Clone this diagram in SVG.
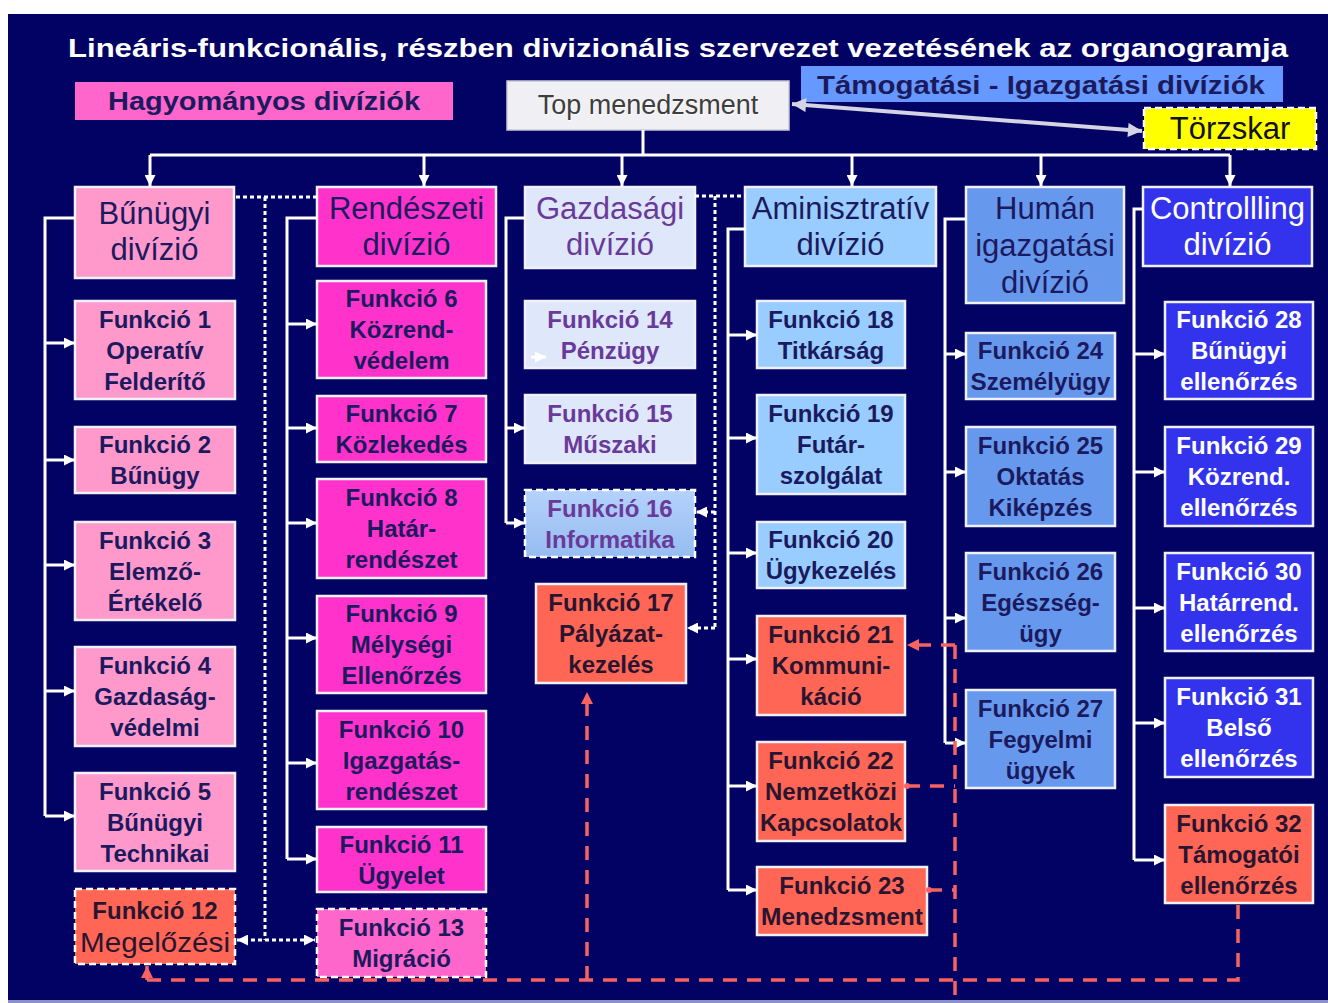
<svg xmlns="http://www.w3.org/2000/svg" width="1328" height="1003" viewBox="0 0 1328 1003">
<defs>
<style>
text{font-family:"Liberation Sans",Arial,sans-serif;text-anchor:middle}
.box{stroke:#f0f0f8;stroke-width:2.5}
.dash{stroke:#ffffff;stroke-width:2.5;stroke-dasharray:7 4}
.div{font-size:31px;fill:#1c1a5e}
.fn{font-size:24px;font-weight:bold;fill:#1c1a5e}
.pur{fill:#6a3a9a}
.wht{fill:#ffffff}
.drk{fill:#2a1530}
.wl{stroke:#ffffff;stroke-width:3;fill:none}
.wd{stroke:#ffffff;stroke-width:3;fill:none;stroke-dasharray:4 3}
.rd{stroke:#f86262;stroke-width:3.5;fill:none;stroke-dasharray:14 10}
.pink{fill:#ff99cc}
.mag{fill:#ff33cc}
.red{fill:#ff6655}
.gaz{fill:#dfe8fb}
.adm{fill:#99ccff}
.hum{fill:#6699ee}
.ctl{fill:#3333ee}
</style>
<marker id="wa" viewBox="0 0 10 10" refX="10" refY="5" markerWidth="12" markerHeight="11" markerUnits="userSpaceOnUse" orient="auto-start-reverse"><path d="M0,0 L10,5 L0,10 z" fill="#ffffff"/></marker>
<marker id="ra" viewBox="0 0 10 10" refX="10" refY="5" markerWidth="13" markerHeight="12" markerUnits="userSpaceOnUse" orient="auto"><path d="M0,0 L10,5 L0,10 z" fill="#f86262"/></marker>
<marker id="ga" viewBox="0 0 10 10" refX="10" refY="5" markerWidth="16" markerHeight="14" markerUnits="userSpaceOnUse" orient="auto-start-reverse"><path d="M0,0 L10,5 L0,10 z" fill="#d4d4e4"/></marker>
<linearGradient id="g16" x1="0" y1="0" x2="0" y2="1"><stop offset="0" stop-color="#b4d2fc"/><stop offset="1" stop-color="#96bcf0"/></linearGradient>
</defs>
<rect x="8" y="14" width="1320" height="986" fill="#020264"/>
<rect x="8" y="1000" width="1320" height="3" fill="#8c90c4"/>

<text x="678" y="57" font-family="DejaVu Sans,sans-serif" font-weight="bold" font-size="26" fill="#ffffff" textLength="1220" lengthAdjust="spacingAndGlyphs">Lineáris-funkcionális,  részben divizionális  szervezet vezetésének az organogramja</text>

<g id="legend-hagyomanyos"><rect x="75" y="82" width="378" height="38" fill="#ff66cc"/><text x="264" y="110" font-size="26" font-weight="bold" fill="#1c1a5e" textLength="312" lengthAdjust="spacingAndGlyphs">Hagyományos divíziók</text></g>
<g id="legend-tamogatasi"><rect x="801" y="66" width="482" height="36" fill="#6699ff"/><text x="1041" y="94" font-size="26" font-weight="bold" fill="#1c1a5e" textLength="448" lengthAdjust="spacingAndGlyphs">Támogatási - Igazgatási divíziók</text></g>
<g id="top"><rect x="507" y="81" width="282" height="49" fill="#f0f0f4" stroke="#c8c8d8" stroke-width="1.5"/><text x="649" y="115" font-size="27" fill="#fff" opacity="0.8">Top menedzsment</text><text x="648" y="114" font-size="27" fill="#3e3e3e">Top menedzsment</text></g>
<g id="torzskar"><rect x="1144" y="108" width="172" height="41" fill="#ffff00" class="dash"/><text x="1230" y="139" font-size="31" fill="#111111">Törzskar</text></g>

<g id="div-bunugyi"><rect x="75" y="187" width="159" height="91" class="box pink"/><text x="154.5" y="224" class="div">Bűnügyi</text><text x="154.5" y="260" class="div">divízió</text></g>
<g id="div-rendeszeti"><rect x="317" y="187" width="179" height="79" class="box mag"/><text x="406.5" y="219" class="div">Rendészeti</text><text x="406.5" y="255" class="div">divízió</text></g>
<g id="div-gazdasagi"><rect x="525" y="187" width="170" height="81" class="box gaz"/><text x="610" y="219" class="div pur">Gazdasági</text><text x="610" y="255" class="div pur">divízió</text></g>
<g id="div-admin"><rect x="745" y="187" width="191" height="79" class="box adm"/><text x="840.5" y="219" class="div">Aminisztratív</text><text x="840.5" y="255" class="div">divízió</text></g>
<g id="div-human"><rect x="966" y="187" width="158" height="116" class="box hum"/><text x="1045" y="219" class="div">Humán</text><text x="1045" y="256" class="div">igazgatási</text><text x="1045" y="293" class="div">divízió</text></g>
<g id="div-controlling"><rect x="1143" y="187" width="169" height="79" class="box ctl"/><text x="1227.5" y="219" class="div wht">Controllling</text><text x="1227.5" y="255" class="div wht">divízió</text></g>

<g id="f1"><rect x="75" y="301" width="160" height="98" class="box pink"/><text x="155" y="327.5" class="fn">Funkció 1</text><text x="155" y="358.5" class="fn">Operatív</text><text x="155" y="389.5" class="fn">Felderítő</text></g>
<g id="f2"><rect x="75" y="427" width="160" height="66" class="box pink"/><text x="155" y="453" class="fn">Funkció 2</text><text x="155" y="484" class="fn">Bűnügy</text></g>
<g id="f3"><rect x="75" y="522" width="160" height="98" class="box pink"/><text x="155" y="548.5" class="fn">Funkció 3</text><text x="155" y="579.5" class="fn">Elemző-</text><text x="155" y="610.5" class="fn">Értékelő</text></g>
<g id="f4"><rect x="75" y="647" width="160" height="99" class="box pink"/><text x="155" y="674" class="fn">Funkció 4</text><text x="155" y="705" class="fn">Gazdaság-</text><text x="155" y="736" class="fn">védelmi</text></g>
<g id="f5"><rect x="75" y="773" width="160" height="98" class="box pink"/><text x="155" y="799.5" class="fn">Funkció 5</text><text x="155" y="830.5" class="fn">Bűnügyi</text><text x="155" y="861.5" class="fn">Technikai</text></g>
<g id="f12"><rect x="75" y="889" width="160" height="75" class="red dash"/><text x="155" y="919" class="fn drk">Funkció 12</text><text x="155" y="952" font-size="28" class="drk" textLength="150" lengthAdjust="spacingAndGlyphs">Megelőzési</text></g>

<g id="f6"><rect x="317" y="281" width="169" height="97" class="box mag"/><text x="401.5" y="307" class="fn">Funkció 6</text><text x="401.5" y="338" class="fn">Közrend-</text><text x="401.5" y="369" class="fn">védelem</text></g>
<g id="f7"><rect x="317" y="396" width="169" height="66" class="box mag"/><text x="401.5" y="422" class="fn">Funkció 7</text><text x="401.5" y="453" class="fn">Közlekedés</text></g>
<g id="f8"><rect x="317" y="479" width="169" height="99" class="box mag"/><text x="401.5" y="506" class="fn">Funkció 8</text><text x="401.5" y="537" class="fn">Határ-</text><text x="401.5" y="568" class="fn">rendészet</text></g>
<g id="f9"><rect x="317" y="596" width="169" height="97" class="box mag"/><text x="401.5" y="622" class="fn">Funkció 9</text><text x="401.5" y="653" class="fn">Mélységi</text><text x="401.5" y="684" class="fn">Ellenőrzés</text></g>
<g id="f10"><rect x="317" y="711" width="169" height="98" class="box mag"/><text x="401.5" y="737.5" class="fn">Funkció 10</text><text x="401.5" y="768.5" class="fn">Igazgatás-</text><text x="401.5" y="799.5" class="fn">rendészet</text></g>
<g id="f11"><rect x="317" y="827" width="169" height="65" class="box mag"/><text x="401.5" y="852.5" class="fn">Funkció 11</text><text x="401.5" y="883.5" class="fn">Ügyelet</text></g>
<g id="f13"><rect x="317" y="909" width="169" height="68" fill="#ff66cc" class="dash"/><text x="401.5" y="936" class="fn">Funkció 13</text><text x="401.5" y="967" class="fn">Migráció</text></g>

<g id="f14"><rect x="525" y="301" width="170" height="67" class="box gaz"/><text x="610" y="327.5" class="fn pur">Funkció 14</text><text x="610" y="358.5" class="fn pur">Pénzügy</text></g>
<g id="f15"><rect x="525" y="395" width="170" height="68" class="box gaz"/><text x="610" y="422" class="fn pur">Funkció 15</text><text x="610" y="453" class="fn pur">Műszaki</text></g>
<g id="f16"><rect x="525" y="490" width="170" height="67" fill="url(#g16)" class="dash"/><text x="610" y="516.5" class="fn pur">Funkció 16</text><text x="610" y="547.5" class="fn pur">Informatika</text></g>
<g id="f17"><rect x="536" y="584" width="150" height="99" class="box red"/><text x="611" y="611" class="fn drk">Funkció 17</text><text x="611" y="642" class="fn drk">Pályázat-</text><text x="611" y="673" class="fn drk">kezelés</text></g>

<g id="f18"><rect x="757" y="301" width="148" height="67" class="box adm"/><text x="831" y="327.5" class="fn">Funkció 18</text><text x="831" y="358.5" class="fn">Titkárság</text></g>
<g id="f19"><rect x="757" y="395" width="148" height="99" class="box adm"/><text x="831" y="422" class="fn">Funkció 19</text><text x="831" y="453" class="fn">Futár-</text><text x="831" y="484" class="fn">szolgálat</text></g>
<g id="f20"><rect x="757" y="522" width="148" height="66" class="box adm"/><text x="831" y="548" class="fn">Funkció 20</text><text x="831" y="579" class="fn">Ügykezelés</text></g>
<g id="f21"><rect x="757" y="616" width="148" height="99" class="box red"/><text x="831" y="643" class="fn drk">Funkció 21</text><text x="831" y="674" class="fn drk">Kommuni-</text><text x="831" y="705" class="fn drk">káció</text></g>
<g id="f22"><rect x="757" y="742" width="148" height="99" class="box red"/><text x="831" y="769" class="fn drk">Funkció 22</text><text x="831" y="800" class="fn drk">Nemzetközi</text><text x="831" y="831" class="fn drk" textLength="142" lengthAdjust="spacingAndGlyphs">Kapcsolatok</text></g>
<g id="f23"><rect x="757" y="867" width="170" height="68" class="box red"/><text x="842" y="894" class="fn drk">Funkció 23</text><text x="842" y="925" class="fn drk" textLength="162" lengthAdjust="spacingAndGlyphs">Menedzsment</text></g>

<g id="f24"><rect x="966" y="333" width="149" height="66" class="box hum"/><text x="1040.5" y="359" class="fn">Funkció 24</text><text x="1040.5" y="390" class="fn" textLength="140" lengthAdjust="spacingAndGlyphs">Személyügy</text></g>
<g id="f25"><rect x="966" y="427" width="149" height="99" class="box hum"/><text x="1040.5" y="454" class="fn">Funkció 25</text><text x="1040.5" y="485" class="fn">Oktatás</text><text x="1040.5" y="516" class="fn">Kiképzés</text></g>
<g id="f26"><rect x="966" y="553" width="149" height="98" class="box hum"/><text x="1040.5" y="579.5" class="fn">Funkció 26</text><text x="1040.5" y="610.5" class="fn">Egészség-</text><text x="1040.5" y="641.5" class="fn">ügy</text></g>
<g id="f27"><rect x="966" y="690" width="149" height="98" class="box hum"/><text x="1040.5" y="716.5" class="fn">Funkció 27</text><text x="1040.5" y="747.5" class="fn">Fegyelmi</text><text x="1040.5" y="778.5" class="fn">ügyek</text></g>

<g id="f28"><rect x="1165" y="302" width="148" height="97" class="box ctl"/><text x="1239" y="328" class="fn wht">Funkció 28</text><text x="1239" y="359" class="fn wht">Bűnügyi</text><text x="1239" y="390" class="fn wht">ellenőrzés</text></g>
<g id="f29"><rect x="1165" y="427" width="148" height="99" class="box ctl"/><text x="1239" y="454" class="fn wht">Funkció 29</text><text x="1239" y="485" class="fn wht">Közrend.</text><text x="1239" y="516" class="fn wht">ellenőrzés</text></g>
<g id="f30"><rect x="1165" y="553" width="148" height="98" class="box ctl"/><text x="1239" y="579.5" class="fn wht">Funkció 30</text><text x="1239" y="610.5" class="fn wht">Határrend.</text><text x="1239" y="641.5" class="fn wht">ellenőrzés</text></g>
<g id="f31"><rect x="1165" y="678" width="148" height="99" class="box ctl"/><text x="1239" y="705" class="fn wht">Funkció 31</text><text x="1239" y="736" class="fn wht">Belső</text><text x="1239" y="767" class="fn wht">ellenőrzés</text></g>
<g id="f32"><rect x="1165" y="805" width="148" height="98" class="box red"/><text x="1239" y="831.5" class="fn drk">Funkció 32</text><text x="1239" y="862.5" class="fn drk">Támogatói</text><text x="1239" y="893.5" class="fn drk">ellenőrzés</text></g>

<g id="connectors">
<path class="wl" d="M643,130 V155 M150,155 H1230"/>
<path class="wl" marker-end="url(#wa)" d="M150,155 V186"/>
<path class="wl" marker-end="url(#wa)" d="M424,155 V186"/>
<path class="wl" marker-end="url(#wa)" d="M622,155 V186"/>
<path class="wl" marker-end="url(#wa)" d="M852,155 V186"/>
<path class="wl" marker-end="url(#wa)" d="M1041,155 V186"/>
<path class="wl" marker-end="url(#wa)" d="M1230,155 V186"/>
<path d="M792,104 L1142,131" stroke="#d4d4e4" stroke-width="4" fill="none" marker-start="url(#ga)" marker-end="url(#ga)"/>

<path class="wl" d="M75,218 H45 V816"/>
<path class="wl" marker-end="url(#wa)" d="M45,343 H75"/>
<path class="wl" marker-end="url(#wa)" d="M45,460 H75"/>
<path class="wl" marker-end="url(#wa)" d="M45,565 H75"/>
<path class="wl" marker-end="url(#wa)" d="M45,691 H75"/>
<path class="wl" marker-end="url(#wa)" d="M45,816 H75"/>

<path class="wl" d="M317,218 H287 V859"/>
<path class="wl" marker-end="url(#wa)" d="M287,324 H317"/>
<path class="wl" marker-end="url(#wa)" d="M287,428 H317"/>
<path class="wl" marker-end="url(#wa)" d="M287,523 H317"/>
<path class="wl" marker-end="url(#wa)" d="M287,638 H317"/>
<path class="wl" marker-end="url(#wa)" d="M287,763 H317"/>
<path class="wl" marker-end="url(#wa)" d="M287,859 H317"/>

<path class="wl" d="M525,218 H506 V523"/>
<path class="wl" marker-end="url(#wa)" d="M531,357 H546"/>
<path class="wl" marker-end="url(#wa)" d="M506,428 H525"/>
<path class="wl" marker-end="url(#wa)" d="M506,523 H525"/>

<path class="wl" d="M745,229 H728 V890"/>
<path class="wl" marker-end="url(#wa)" d="M728,335 H757"/>
<path class="wl" marker-end="url(#wa)" d="M728,438 H757"/>
<path class="wl" marker-end="url(#wa)" d="M728,553 H757"/>
<path class="wl" marker-end="url(#wa)" d="M728,659 H757"/>
<path class="wl" marker-end="url(#wa)" d="M728,786 H757"/>
<path class="wl" marker-end="url(#wa)" d="M728,890 H757"/>

<path class="wl" d="M966,219 H945 V743"/>
<path class="wl" marker-end="url(#wa)" d="M945,354 H966"/>
<path class="wl" marker-end="url(#wa)" d="M945,472 H966"/>
<path class="wl" marker-end="url(#wa)" d="M945,618 H966"/>
<path class="wl" marker-end="url(#wa)" d="M945,743 H966"/>

<path class="wl" d="M1143,209 H1134 V860"/>
<path class="wl" marker-end="url(#wa)" d="M1134,354 H1165"/>
<path class="wl" marker-end="url(#wa)" d="M1134,472 H1165"/>
<path class="wl" marker-end="url(#wa)" d="M1134,608 H1165"/>
<path class="wl" marker-end="url(#wa)" d="M1134,723 H1165"/>
<path class="wl" marker-end="url(#wa)" d="M1134,860 H1165"/>

<path class="wd" d="M236,197 H317 M265,197 V940"/>
<path class="wd" marker-start="url(#wa)" marker-end="url(#wa)" d="M237,940 H315"/>
<path class="wd" d="M695,196 H745 M715,196 V628"/>
<path class="wd" marker-end="url(#wa)" d="M715,512 H696"/>
<path class="wd" marker-end="url(#wa)" d="M715,628 H687"/>

<path class="rd" d="M955,645 V1000"/>
<path class="rd" marker-end="url(#ra)" d="M955,645 H907"/>
<path class="rd" d="M906,786 H955"/>
<path class="rd" d="M928,890 H955"/>
<path class="rd" d="M147,980 H1238 V904"/>
<path class="rd" marker-end="url(#ra)" d="M587,980 V692"/>
<path stroke="#f86262" stroke-width="3.5" fill="none" marker-end="url(#ra)" d="M147,980 V966"/>
<circle cx="907" cy="786" r="3" fill="#f86262"/>
<circle cx="929" cy="890" r="3" fill="#f86262"/>
</g>
</svg>
